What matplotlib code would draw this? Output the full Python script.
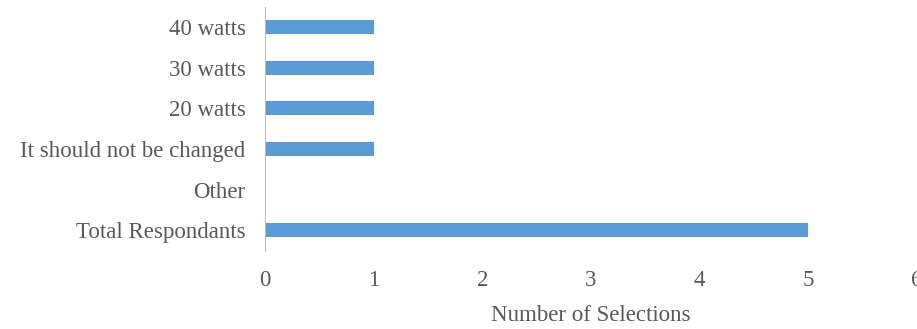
import matplotlib
matplotlib.use('Agg')
import matplotlib.pyplot as plt

# categories from bottom to top
categories = ['Total Respondants', 'Other', 'It should not be changed',
              '20 watts', '30 watts', '40 watts']
selections = [5, 0, 1, 1, 1, 1]
xticks = [0, 1, 2, 3, 4, 5, 6]

plt.rcParams['font.family'] = 'Liberation Serif'
txt = '#595959'
fs = 16.5

fig = plt.figure(figsize=(9.17, 3.29), dpi=100)
ax = fig.add_axes([0.289, 0.238, 0.711, 0.742])

ax.barh(range(len(categories)), selections, height=0.34, color='#5B9BD5')
ax.set_yticks(range(len(categories)))
ax.set_yticklabels(categories, fontsize=fs, color=txt)
ax.set_xlim(0, 6)
ax.set_ylim(-0.5, len(categories) - 0.5)
ax.set_xticks(xticks)
ax.set_xticklabels([str(v) for v in xticks], fontsize=fs, color=txt)
ax.tick_params(axis='both', length=0)
ax.tick_params(axis='y', pad=14)
ax.tick_params(axis='x', pad=14)

for s in ['top', 'right', 'bottom']:
    ax.spines[s].set_visible(False)
ax.spines['left'].set_color('#BFBFBF')
ax.spines['left'].set_linewidth(0.8)

ax.set_xlabel('Number of Selections', fontsize=fs, color=txt, labelpad=10)

fig.savefig('out.png', dpi=100)
